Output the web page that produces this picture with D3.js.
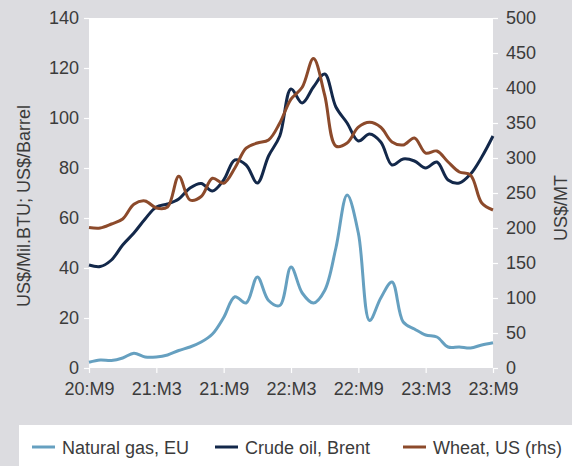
<!DOCTYPE html>
<html>
<head>
<meta charset="utf-8">
<script src="https://cdn.jsdelivr.net/npm/d3@7"></script>
<style>
  html, body { margin: 0; padding: 0; background: #dcdce0; }
  svg { display: block; }
  text { font-family: "Liberation Sans", Arial, sans-serif; font-size: 18px; fill: #3b3b3b; }
</style>
</head>
<body>
<div id="chart"></div>
<script>
// monthly, 20:M9 .. 23:M9
const tickLabels = ['20:M9', '21:M3', '21:M9', '22:M3', '22:M9', '23:M3', '23:M9']

const gas = [2.3, 3.2, 3.0, 4.0, 5.9, 4.4, 4.4, 5.2, 7.0, 8.4, 10.4, 13.6, 20.2,
  28.5, 26, 36.4, 27, 25, 40.4, 30, 26, 31, 48, 69.2, 54, 19, 28, 34.4, 18.4,
  15.6, 13.2, 12.4, 8.4, 8.4, 8, 9.2, 10.1]

const crude = [41.2, 40.6, 43.2, 49.2, 54, 59.6, 64.4, 65.6, 67.6, 72, 73.8, 70.8, 75.2,
  83.2, 81.2, 74, 84.8, 92.8, 111.6, 106, 112.4, 117.6, 104.4, 98, 90.8, 93.6, 90.4,
  81.2, 83.6, 82.8, 80, 82.4, 75.2, 74, 77.6, 84.4, 92.8]

const wheat = [200.7, 200, 205.7, 212.9, 234, 238.6, 228.6, 230, 274, 240, 245, 271, 264,
  285.7, 314, 321.4, 325.7, 350, 384, 401, 442, 390, 317, 321.4, 344, 351, 344,
  323, 318.6, 328.6, 307, 310, 294.3, 280, 275.7, 235.7, 225.7]

const leftTicks = [0, 20, 40, 60, 80, 100, 120, 140]
const rightTicks = [0, 50, 100, 150, 200, 250, 300, 350, 400, 450, 500]

let w = 572, h = 466
let pLeft = 89, pRight = 493, pTop = 18, pBottom = 368

let svg = d3.select('#chart').append('svg').attr('width', w).attr('height', h)

svg.append('rect').attr('width', w).attr('height', h).attr('fill', '#dcdce0')
svg.append('rect')
  .attr('x', pLeft).attr('y', pTop)
  .attr('width', pRight - pLeft).attr('height', pBottom - pTop)
  .attr('fill', '#fff')

let x = d3.scaleLinear().domain([0, gas.length - 1]).range([pLeft, pRight])
let yL = d3.scaleLinear().domain([0, 140]).range([pBottom, pTop])
let yR = d3.scaleLinear().domain([0, 500]).range([pBottom, pTop])

// axes
let styleAxis = (g)=>{
  g.select('.domain').remove()
  g.selectAll('.tick line').attr('stroke', '#fff').attr('stroke-width', 1.2)
  g.selectAll('.tick text').attr('fill', '#3b3b3b').style('font-size', '18px')
    .style('font-family', '"Liberation Sans", Arial, sans-serif')
}

svg.append('g').attr('transform', `translate(${pLeft},0)`)
  .call(d3.axisLeft(yL).tickValues(leftTicks).tickSize(5).tickPadding(5))
  .call(styleAxis)

svg.append('g').attr('transform', `translate(${pRight},0)`)
  .call(d3.axisRight(yR).tickValues(rightTicks).tickSize(5).tickPadding(8))
  .call(styleAxis)

svg.append('g').attr('transform', `translate(0,${pBottom})`)
  .call(d3.axisBottom(x).tickValues(tickLabels.map((d, i)=>i * 6))
    .tickFormat((d, i)=>tickLabels[i]).tickSize(5).tickPadding(9))
  .call(styleAxis)

// axis titles
svg.append('text')
  .attr('transform', 'translate(30,206) rotate(-90)')
  .attr('text-anchor', 'middle')
  .text('US$/Mil.BTU; US$/Barrel')

svg.append('text')
  .attr('transform', 'translate(567,208) rotate(-90)')
  .attr('text-anchor', 'middle')
  .text('US$/MT')

// lines
const series = [
  {name: 'Natural gas, EU', values: gas, y: yL, color: '#66a0c0'},
  {name: 'Crude oil, Brent', values: crude, y: yL, color: '#13284a'},
  {name: 'Wheat, US (rhs)', values: wheat, y: yR, color: '#8c4a2b'}
]

series.forEach(s=>{
  let line = d3.line()
    .x((d, i)=>x(i))
    .y(d=>s.y(d))
    .curve(d3.curveCatmullRom.alpha(0.5))
  svg.append('path')
    .datum(s.values)
    .attr('d', line)
    .attr('fill', 'none')
    .attr('stroke', s.color)
    .attr('stroke-width', 3)
    .attr('stroke-linejoin', 'round')
})

// legend
svg.append('rect').attr('x', 19).attr('y', 425).attr('width', w - 19).attr('height', h - 425)
  .attr('fill', '#fff')

const legendX = [32, 215, 403]
series.forEach((s, i)=>{
  let g = svg.append('g').attr('transform', `translate(${legendX[i]},447)`)
  g.append('line').attr('x1', 0).attr('x2', 23).attr('y1', 0).attr('y2', 0)
    .attr('stroke', s.color).attr('stroke-width', 3)
  g.append('text').attr('x', 30).attr('y', 7).text(s.name)
})
</script>
</body>
</html>
